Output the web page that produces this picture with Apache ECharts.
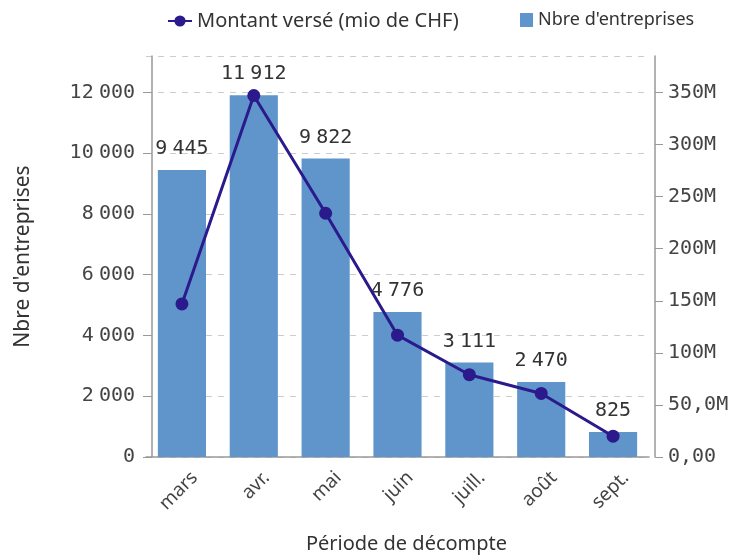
<!DOCTYPE html>
<html><head><meta charset="utf-8">
<script src="https://cdn.jsdelivr.net/npm/echarts@6/dist/echarts.min.js"></script>
<style>html,body{margin:0;padding:0;background:#fff}#c{width:731px;height:558px}</style>
</head><body><div id="c"></div>
<script>
const categories = ['mars','avr.','mai','juin','juill.','août','sept.'];
const entreprises = [9445, 11912, 9822, 4776, 3111, 2470, 825];
const montant = [147e6, 347e6, 234e6, 117e6, 79e6, 61e6, 20e6];
const rightTicks = {0:'0,00',50e6:'50,0M',100e6:'100M',150e6:'150M',200e6:'200M',250e6:'250M',300e6:'300M',350e6:'350M'};

const mono = 'DejaVu Sans Mono';
const sans = 'Noto Sans';
function fmtSpace(v){ return String(v).replace(/\B(?=(\d{3})+(?!\d))/g,'{s| }'); }
const spaceRich = {s:{fontFamily:sans,fontSize:20}};

const chart = echarts.init(document.getElementById('c'));
chart.setOption({
  animation:false,
  legend:[{
    top:6, left:162, itemWidth:24, itemHeight:14, itemGap:8,
    textStyle:{fontFamily:sans,fontSize:20,color:'#333'},
    data:['Montant versé (mio de CHF)']
  },{
    top:6, left:515, itemWidth:13, itemHeight:14,
    textStyle:{fontFamily:sans,fontSize:18,color:'#333'},
    data:[{name:"Nbre d'entreprises",icon:'rect'}]
  }],
  grid:{left:146,right:82,top:56,bottom:101,containLabel:false,outerBoundsMode:'none'},
  xAxis:{
    type:'category', data:categories,
    axisLine:{lineStyle:{color:'#999',width:1.5}},
    axisTick:{show:false},
    axisLabel:{rotate:45,fontFamily:sans,fontSize:19,color:'#444',margin:5,verticalAlign:'top',lineHeight:36},
    name:'Période de décompte', nameLocation:'middle', nameGap:77,
    nameTextStyle:{fontFamily:sans,fontSize:20,color:'#333',padding:[0,0,0,18]}
  },
  yAxis:[{
    type:'value', min:0, max:13200, interval:2000, offset:-6,
    axisLine:{show:true,lineStyle:{color:'#999',width:1.5}},
    axisTick:{show:true,length:9,lineStyle:{color:'#999'}},
    axisLabel:{showMaxLabel:false,fontFamily:mono,fontSize:20,color:'#444',margin:17,formatter:v=>fmtSpace(v),rich:spaceRich},
    splitLine:{show:true,lineStyle:{type:[6,6],color:'#ccc'}},
    name:"Nbre d'entreprises", nameLocation:'middle', nameGap:118,
    nameTextStyle:{fontFamily:sans,fontSize:21,color:'#333'}
  },{
    type:'value', min:0, max:385e6, interval:50e6, position:'right', offset:6,
    axisLine:{show:true,lineStyle:{color:'#999',width:1.5}},
    axisTick:{show:true,length:8,lineStyle:{color:'#999'}},
    axisLabel:{showMaxLabel:false,fontFamily:mono,fontSize:20,color:'#444',margin:13,formatter:v=>rightTicks[v]||''},
    splitLine:{show:false}
  }],
  series:[{
    name:"Nbre d'entreprises", type:'bar', data:entreprises, yAxisIndex:0,
    barCategoryGap:'33%',
    itemStyle:{color:'#5f95ca'},
    label:{show:true,position:'top',distance:11,fontFamily:mono,fontSize:20,color:'#333',formatter:p=>fmtSpace(p.value),rich:spaceRich}
  },{
    name:'Montant versé (mio de CHF)', type:'line', data:montant, yAxisIndex:1,
    symbol:'circle', symbolSize:13,
    lineStyle:{color:'#2b1a8c',width:3},
    itemStyle:{color:'#2b1a8c'},
    z:5
  }]
});
</script></body></html>
